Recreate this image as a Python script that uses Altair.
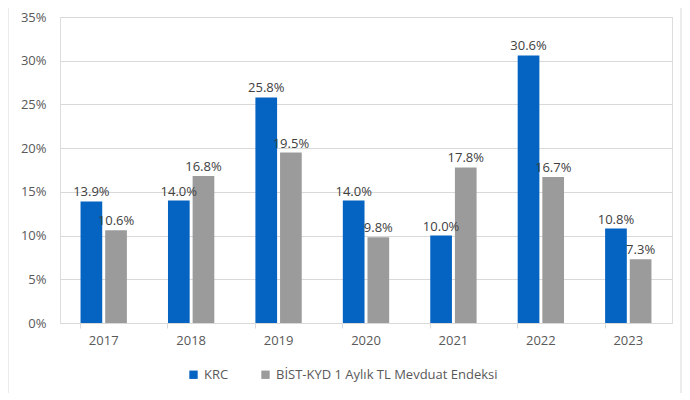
import altair as alt
import pandas as pd

years = ["2017", "2018", "2019", "2020", "2021", "2022", "2023"]
series = ["KRC", "BİST-KYD 1 Aylık TL Mevduat Endeksi"]
krc = [13.9, 14.0, 25.8, 14.0, 10.0, 30.6, 10.8]
bist = [10.6, 16.8, 19.5, 9.8, 17.8, 16.7, 7.3]
colors = ["#0563C1", "#9B9B9B"]

rows = []
for i, y in enumerate(years):
    rows.append({"year": y, "series": series[0], "value": krc[i]})
    rows.append({"year": y, "series": series[1], "value": bist[i]})
df = pd.DataFrame(rows)

FONT = "Open Sans"
GRAY = "#595959"

base = alt.Chart(df).transform_calculate(
    label="format(datum.value, '.1f') + '%'"
)

x = alt.X("year:N", sort=years, title=None,
          scale=alt.Scale(paddingInner=0.47, paddingOuter=0.235),
          axis=alt.Axis(labelAngle=0, labelColor=GRAY, labelFontSize=13, labelFont=FONT,
                        domainColor="#D9D9D9", tickColor="#D9D9D9", tickSize=5,
                        bandPosition=0, labelPadding=6, grid=False))
xo = alt.XOffset("series:N", sort=series, scale=alt.Scale(paddingInner=0.12))
y = alt.Y("value:Q", title=None,
          scale=alt.Scale(domain=[0, 35], nice=False),
          axis=alt.Axis(values=[0, 5, 10, 15, 20, 25, 30, 35], labelExpr="datum.value + '%'",
                        domain=False, ticks=False, labelColor=GRAY, labelFontSize=13,
                        labelFont=FONT, gridColor="#D9D9D9", labelPadding=14))

bars = base.mark_bar().encode(
    x=x, xOffset=xo, y=y,
    color=alt.Color("series:N", sort=series, scale=alt.Scale(domain=series, range=colors),
                    legend=alt.Legend(title=None, orient="none", legendX=127, legendY=351,
                                      direction="horizontal", symbolType="square",
                                      symbolSize=70, symbolStrokeWidth=0,
                                      labelColor=GRAY, labelFontSize=13, labelFont=FONT,
                                      labelLimit=0, columnPadding=30, labelOffset=4))
)

labels = base.mark_text(dy=-9, fontSize=13, font=FONT, color="#404040").encode(
    x=x, xOffset=xo, y=y, text="label:N"
)

border = alt.Chart(pd.DataFrame({"a": [0]})).mark_rect(
    fill=None, stroke="#D9D9D9", strokeWidth=1, clip=False
).encode(x=alt.value(-52), x2=alt.value(621), y=alt.value(-30), y2=alt.value(378))

chart = alt.layer(bars, labels, border).properties(
    width=612, height=306,
    autosize=alt.AutoSizeParams(type="none"),
    padding={"left": 52, "top": 9, "right": 10, "bottom": 70},
).configure_view(stroke=None).configure(background="white")

chart.save("out.html", embed_options={"renderer": "svg", "actions": False})
